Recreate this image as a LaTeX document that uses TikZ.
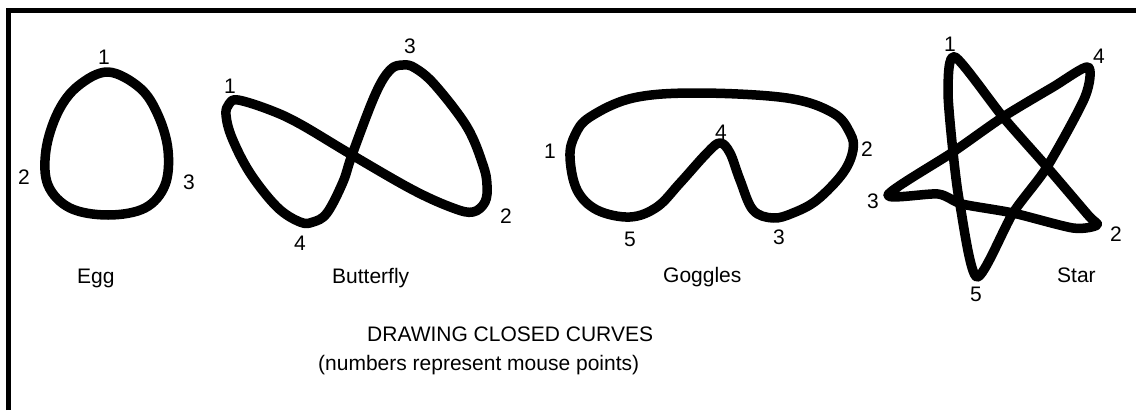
\documentclass[tikz,border=0pt]{standalone}
\usepackage{fontspec}
\setmainfont{Liberation Sans}
\usepackage{tikz}

\begin{document}
\begin{tikzpicture}[x=1pt, y=-1pt,
    curve/.style={line width=9.5pt, line join=round},
    pt/.style={inner sep=0pt, font=\fontsize{21}{25}\selectfont},
    caption/.style={inner sep=0pt, anchor=base west, font=\fontsize{21}{25}\selectfont}]
        \useasboundingbox (0,0) rectangle (1136,410);

        % Frame (top and left edges only)
        \draw[line width=4.5pt, line join=miter] (8.5,410) -- (8.5,10.5) -- (1136,10.5);

        % Egg
        \draw[curve] plot[smooth cycle, tension=0.6] coordinates {
            (108,72) (140,88) (158,115) (168,150) (165,185) (145,208) (108,215)
            (70,208) (48,185) (46,150) (58,112) (78,86)};
        \node[pt] (egg1) at (104,57) {1};
        \node[pt] (egg2) at (24,177) {2};
        \node[pt] (egg3) at (189,182) {3};
        \node[caption] (egg) at (77,283) {Egg};

        % Butterfly
        \draw[curve] plot[smooth cycle, tension=0.6] coordinates {
            (238,100) (270,110) (300,124) (352,155) (413,190) (453,208) (473,212)
            (485,202) (487,185) (483,165) (467,127) (435,85) (415,68) (403,65)
            (390,70) (375,95) (352,155) (343,182) (327,213) (313,222) (300,222)
            (277,207) (250,173) (232,138) (226,115) (229,104)};
        \node[pt] (bfly1) at (230,86) {1};
        \node[pt] (bfly2) at (506,216) {2};
        \node[pt] (bfly3) at (410,46) {3};
        \node[pt] (bfly4) at (300,243) {4};
        \node[caption] (bfly) at (332,283) {Butterfly};

        % Goggles
        \draw[curve] plot[smooth cycle, tension=0.6] coordinates {
            (570,157) (577,190) (597,210) (630,217) (657,207) (680,183) (707,153)
            (720,143) (730,153) (740,180) (753,210) (773,218) (793,213) (817,200)
            (843,173) (853,150) (850,133) (833,113) (787,98) (697,93) (633,98)
            (590,117) (575,135)};
        \node[pt] (gog1) at (550,151) {1};
        \node[pt] (gog2) at (867,149) {2};
        \node[pt] (gog3) at (779,237) {3};
        \node[pt] (gog4) at (721,132) {4};
        \node[pt] (gog5) at (630,239) {5};
        \node[caption] (gog) at (663,282) {Goggles};

        % Star
        \draw[curve] plot[smooth cycle, tension=0.45] coordinates {
            (955,57) (1003,117) (1047,167) (1088,215) (1097,225)
            (1073,228) (1013,213) (962,204) (938,194) (888,195)
            (953,152) (1003,117) (1053,87) (1088,67)
            (1085,97) (1047,167) (1013,213) (977,277)
            (960,205) (953,152) (948,90)};
        \node[pt] (star1) at (950,44) {1};
        \node[pt] (star2) at (1116,234) {2};
        \node[pt] (star3) at (873,201) {3};
        \node[pt] (star4) at (1099,56) {4};
        \node[pt] (star5) at (976,294) {5};
        \node[caption] (star) at (1057,282) {Star};

        % Title
        \node[caption] (title) at (367,341) {DRAWING CLOSED CURVES};
        \node[caption] (note) at (318,370) {(numbers represent mouse points)};
    \end{tikzpicture}
\end{document}
